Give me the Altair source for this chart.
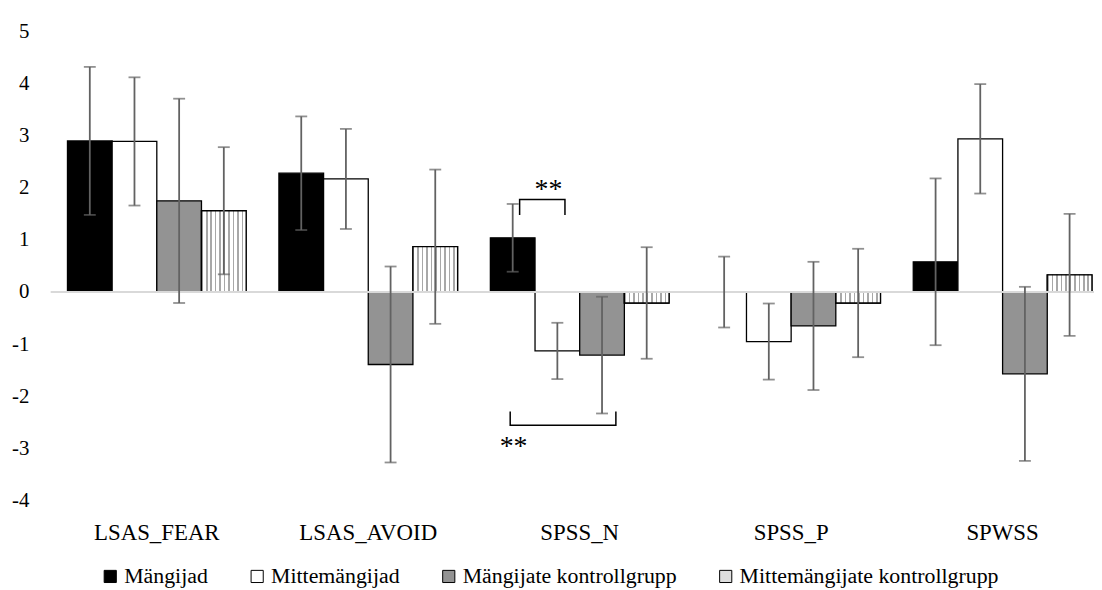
import altair as alt
import pandas as pd

categories = ["LSAS_FEAR", "LSAS_AVOID", "SPSS_N", "SPSS_P", "SPWSS"]
series = ["Mängijad", "Mittemängijad", "Mängijate kontrollgrupp", "Mittemängijate kontrollgrupp"]
colors = ["#000000", "#ffffff", "#939393", "#dedede"]

mean_players = [2.90, 2.28, 1.04, 0.0, 0.58]
mean_nonplayers = [2.89, 2.17, -1.13, -0.95, 2.94]
mean_players_ctrl = [1.75, -1.39, -1.21, -0.65, -1.57]
mean_nonplayers_ctrl = [1.56, 0.87, -0.21, -0.21, 0.33]

err_players = [1.42, 1.09, 0.65, 0.68, 1.60]
err_nonplayers = [1.23, 0.96, 0.54, 0.73, 1.05]
err_players_ctrl = [1.96, 1.88, 1.12, 1.23, 1.67]
err_nonplayers_ctrl = [1.22, 1.48, 1.07, 1.04, 1.17]

y_ticks = [-4, -3, -2, -1, 0, 1, 2, 3, 4, 5]

# significance brackets (position within the group: 0..4 series slots)
bracket_category = ["SPSS_N"] * 8
bracket_id = ["top"] * 4 + ["bottom"] * 4
bracket_pos = [0.655, 0.655, 1.67, 1.67, 0.444, 0.444, 2.81, 2.81]
bracket_y = [1.48, 1.775, 1.775, 1.48, -2.29, -2.556, -2.556, -2.29]
bracket_order = [0, 1, 2, 3, 0, 1, 2, 3]

star_category = ["SPSS_N", "SPSS_N"]
star_text = ["**", "**"]
star_pos = [1.30, 0.52]
star_y = [1.95, -2.98]

FONT = "Liberation Serif"

means = [mean_players, mean_nonplayers, mean_players_ctrl, mean_nonplayers_ctrl]
errs = [err_players, err_nonplayers, err_players_ctrl, err_nonplayers_ctrl]
rows = []
for s, m_list, e_list in zip(series, means, errs):
    for c, m, e in zip(categories, m_list, e_list):
        rows.append({"category": c, "series": s, "mean": m, "lo": m - e, "hi": m + e})
df = pd.DataFrame(rows)

bracket_df = pd.DataFrame({"category": bracket_category, "id": bracket_id,
                           "pos": bracket_pos, "y": bracket_y, "order": bracket_order})
star_df = pd.DataFrame({"category": star_category, "text": star_text,
                        "pos": star_pos, "y": star_y})

x_scale = alt.Scale(domain=categories, paddingInner=0.155, paddingOuter=0.0446, align=0.89)
y_scale = alt.Scale(domain=[-4, 5], nice=False, zero=False)
off_scale = alt.Scale(domain=series, paddingInner=0, paddingOuter=0)

x_axis = alt.Axis(labelAngle=0, ticks=False, domain=False, grid=False, labelFont=FONT,
                  labelFontSize=23, labelColor="black", labelPadding=21, title=None)
y_axis = alt.Axis(values=y_ticks, grid=False, domain=False, ticks=False, labelFont=FONT,
                  labelFontSize=21, labelColor="black", labelPadding=22,
                  labelExpr="'' + datum.value", title=None)

X = alt.X("category:N", scale=x_scale, axis=x_axis, sort=categories, title=None)
xo = alt.XOffset("series:N", scale=off_scale, sort=series)


def Y(field):
    return alt.Y(field, scale=y_scale, axis=y_axis, title=None)


base = alt.Chart(df)

bars = base.mark_bar(stroke="black", strokeWidth=1.3).encode(
    x=X,
    xOffset=xo,
    y=Y("mean:Q"),
    fill=alt.Fill("series:N", scale=alt.Scale(domain=series, range=colors),
                  legend=alt.Legend(orient="none", legendX=49, legendY=538,
                                    direction="horizontal", title=None,
                                    symbolType="square", symbolSize=150,
                                    symbolStrokeColor="black", symbolStrokeWidth=1,
                                    labelFont=FONT, labelFontSize=22, labelColor="black",
                                    columnPadding=38, labelOffset=3, labelLimit=500)),
)

stops = []
n = 10
for i in range(n):
    a = i / n
    b = a + 0.35 / n
    stops.append({"offset": a, "color": "#a8a8a8"})
    stops.append({"offset": b, "color": "#a8a8a8"})
    stops.append({"offset": b, "color": "#ffffff"})
    stops.append({"offset": (i + 1) / n, "color": "#ffffff"})
hatch_fill = {"gradient": "linear", "x1": 0, "y1": 0, "x2": 1, "y2": 0, "stops": stops}

hatch = base.transform_filter(alt.datum.series == series[3]).mark_bar(
    fill=hatch_fill, stroke="black", strokeWidth=1.3
).encode(x=X, xOffset=xo, y=Y("mean:Q"))

zero = alt.Chart(pd.DataFrame({"z": [0]})).mark_rule(color="#d9d9d9", strokeWidth=2).encode(
    y=Y("z:Q")
)

err_col = "#626262"
err = base.mark_rule(color=err_col, strokeWidth=1.8).encode(
    x=X, xOffset=xo, y=Y("lo:Q"), y2="hi:Q"
)
cap_lo = base.mark_tick(color=err_col, thickness=1.8, size=12).encode(
    x=X, xOffset=xo, y=Y("lo:Q")
)
cap_hi = base.mark_tick(color=err_col, thickness=1.8, size=12).encode(
    x=X, xOffset=xo, y=Y("hi:Q")
)

qoff = alt.XOffset("pos:Q", scale=alt.Scale(domain=[0, 4], nice=False, zero=False))
brackets = alt.Chart(bracket_df).mark_line(color="black", strokeWidth=1.5).encode(
    x=X, xOffset=qoff, y=Y("y:Q"),
    detail="id:N", order="order:Q"
)
stars = alt.Chart(star_df).mark_text(font=FONT, fontSize=28, color="black",
                                     align="center", baseline="middle").encode(
    x=X, xOffset=qoff, y=Y("y:Q"),
    text="text:N"
)

chart = alt.layer(bars, hatch, zero, err, cap_lo, cap_hi, brackets, stars).resolve_scale(
    xOffset="independent"
).properties(
    width=1051, height=472.5,
    autosize=alt.AutoSizeParams(type="none"),
    padding={"left": 43, "top": 21.5, "right": 0, "bottom": 86},
).configure(font=FONT).configure_view(stroke=None)

chart.save("out.html", embed_options={"renderer": "svg", "actions": False})
